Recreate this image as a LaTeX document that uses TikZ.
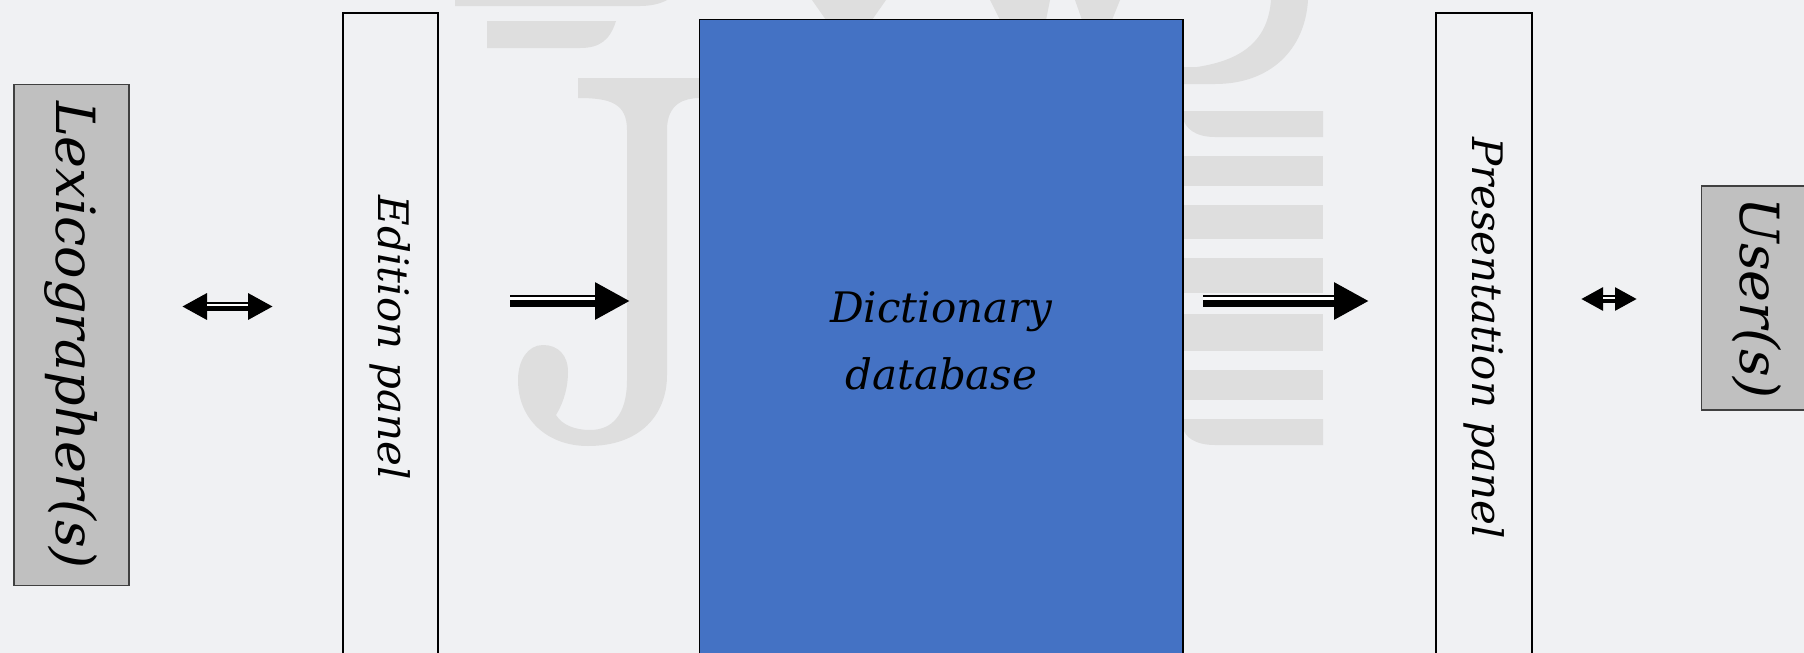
\documentclass[tikz,border=0pt]{standalone}
\usepackage{fontspec}
\setmainfont{DejaVu Serif}
\usetikzlibrary{arrows.meta}
\definecolor{bgc}{HTML}{F0F1F3}
\definecolor{wm}{HTML}{DEDEDE}
\definecolor{dbblue}{HTML}{4472C4}
\definecolor{actorgray}{HTML}{C0C0C0}
\definecolor{actoredge}{HTML}{404040}
\begin{document}
\begin{tikzpicture}[x=1pt,y=-1pt,
  actor/.style={draw=actoredge, fill=actorgray, line width=1.3pt, inner sep=0pt,
    font=\fontsize{54}{60}\selectfont\itshape},
  panel/.style={draw=black, line width=1.7pt, inner sep=0pt,
    font=\fontsize{42}{50}\selectfont\itshape},
  dbbox/.style={draw=black, fill=dbblue, line width=1.6pt, inner sep=0pt, align=center,
    font=\fontsize{42}{67}\selectfont\itshape},
  flow/.style={line width=12pt, -{Triangle[length=35pt,width=35pt]},
    postaction={draw=white, line width=3pt, -, shorten >=35pt, transform canvas={yshift=2.5pt}}},
  duplex/.style={line width=9pt, {Triangle[length=#1,width=#1]}-{Triangle[length=#1,width=#1]},
    postaction={draw=white, line width=2pt, -, shorten >=#1, shorten <=#1, transform canvas={yshift=1.5pt}}},
  mark wm/.style={fill=wm, draw=none}
]
\useasboundingbox (0,0) rectangle (1804,653);
\fill[bgc] (0,0) rectangle (1804,653);

% watermark
\path[mark wm] (455,0) -- (667,0) .. controls (660,4) and (650,6) .. (640,6) -- (455,6) -- cycle;
\path[mark wm] (487,21) -- (616,21) .. controls (610,40) and (600,48) .. (580,48) -- (487,48) -- cycle;
\path[mark wm] (578,78) -- (720,78) -- (720,98) -- (700,98) .. controls (685,98) and (667,103) .. (667,130)
  -- (667,375) .. controls (667,415) and (640,446) .. (588,446)
  .. controls (548,446) and (518,420) .. (518,380)
  .. controls (518,360) and (528,345) .. (543,345)
  .. controls (558,345) and (568,355) .. (568,372)
  .. controls (568,385) and (565,400) .. (556,415)
  .. controls (562,425) and (575,430) .. (590,430)
  .. controls (612,430) and (627,415) .. (627,380)
  -- (627,130) .. controls (627,103) and (610,98) .. (578,98) -- cycle;
\path[mark wm] (812,0) -- (886,0) -- (872,20) -- (826,20) -- cycle;
\path[mark wm] (990,0) -- (1050,0) -- (1046,20) -- (1000,20) -- cycle;
\path[mark wm] (1075,0) -- (1120,0) -- (1112,20) -- (1082,20) -- cycle;
\path[mark wm] (1308,0) .. controls (1305,50) and (1270,84) .. (1215,84) -- (1180,84) -- (1180,67)
  -- (1197,67) .. controls (1243,60) and (1268,40) .. (1271,0) -- cycle;
\path[mark wm] (1180,111) -- (1323,111) -- (1323,137) -- (1215,137) .. controls (1195,137) and (1185,128) .. (1183,118) -- cycle;
\path[mark wm] (1180,156) rectangle (1323,186);
\path[mark wm] (1180,205) rectangle (1323,239);
\path[mark wm] (1180,258) rectangle (1323,293);
\path[mark wm] (1180,314) rectangle (1323,351);
\path[mark wm] (1180,370) rectangle (1323,400);
\path[mark wm] (1180,419) -- (1323,419) -- (1323,445) -- (1215,445) .. controls (1195,445) and (1185,437) .. (1183,428) -- cycle;

% boxes
\node[actor, rotate=-90, minimum width=501.6pt, minimum height=115pt] (lex) at (71.5,335) {Lexicographer(s)};
\node[panel, rotate=-90, minimum width=650pt, minimum height=95pt] (edit) at (390.5,338) {Edition panel};
\node[dbbox, minimum width=483.5pt, minimum height=643pt] (db) at (941.3,341) {Dictionary\\database};
\node[panel, rotate=-90, minimum width=650pt, minimum height=96pt] (pres) at (1484,338) {Presentation panel};
\node[actor, rotate=-90, minimum width=224pt, minimum height=110pt] (user) at (1756.5,298) {User(s)};

% connector ends
\coordinate (a1s) at (182,306.5);
\coordinate (a1e) at (273,306.5);
\coordinate (a2s) at (510,301);
\coordinate (a2e) at (630,301);
\coordinate (a3s) at (1203,301);
\coordinate (a3e) at (1369,301);
\coordinate (a4s) at (1581,299);
\coordinate (a4e) at (1637,299);

\draw[duplex=25pt] (a1s) -- (a1e);
\draw[flow] (a2s) -- (a2e);
\draw[flow] (a3s) -- (a3e);
\draw[duplex=22pt, line width=8pt] (a4s) -- (a4e);
\end{tikzpicture}
\end{document}
